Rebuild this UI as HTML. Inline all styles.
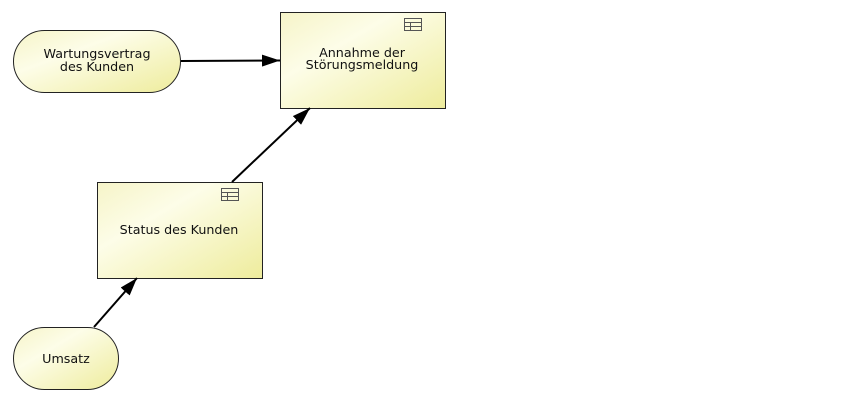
<!DOCTYPE html>
<html><head><meta charset="utf-8"><style>
html,body{margin:0;padding:0;background:#fff;width:850px;height:400px;overflow:hidden}
text{font-family:"DejaVu Sans","Liberation Sans",sans-serif;font-size:12.7px;fill:#111}
</style></head><body>
<svg width="850" height="400" xmlns="http://www.w3.org/2000/svg">
<defs>
<linearGradient id="g" x1="0" y1="0" x2="1" y2="1">
<stop offset="0" stop-color="#f6f4c8"/><stop offset="0.35" stop-color="#fdfde8"/><stop offset="1" stop-color="#eeec9c"/>
</linearGradient>
<marker id="b" markerWidth="18" markerHeight="12" refX="18" refY="6" orient="auto" markerUnits="userSpaceOnUse">
<path d="M0,0 L18,6 L0,12 Z" fill="#000"/></marker>
<g id="ic"><rect x="0" y="0" width="17" height="12" fill="none" stroke="#555" stroke-width="1"/><line x1="0" y1="4" x2="17" y2="4" stroke="#555"/><line x1="0" y1="8" x2="17" y2="8" stroke="#555"/><line x1="6" y1="4" x2="6" y2="12" stroke="#555"/></g>
</defs>
<rect x="13.5" y="30.5" width="167" height="62" rx="31" fill="url(#g)" stroke="#222" stroke-width="1"/>
<text x="97" y="58" text-anchor="middle">Wartungsvertrag</text>
<text x="97" y="71" text-anchor="middle">des Kunden</text>
<rect x="280.5" y="12.5" width="165" height="96" fill="url(#g)" stroke="#222"/>
<use href="#ic" x="404.5" y="18.5"/>
<text x="362" y="57" text-anchor="middle">Annahme der</text>
<text x="362" y="69" text-anchor="middle">Störungsmeldung</text>
<rect x="97.5" y="182.5" width="165" height="96" fill="url(#g)" stroke="#222"/>
<use href="#ic" x="221.5" y="188.5"/>
<text x="179" y="234" text-anchor="middle">Status des Kunden</text>
<rect x="13.5" y="327.5" width="105" height="62" rx="31" fill="url(#g)" stroke="#222"/>
<text x="66" y="363" text-anchor="middle">Umsatz</text>
<line x1="181" y1="61" x2="280" y2="60.5" stroke="#000" stroke-width="2" marker-end="url(#b)"/>
<line x1="232" y1="182" x2="310" y2="108" stroke="#000" stroke-width="2" marker-end="url(#b)"/>
<line x1="94" y1="327" x2="137" y2="278" stroke="#000" stroke-width="2" marker-end="url(#b)"/>
</svg>
</body></html>
